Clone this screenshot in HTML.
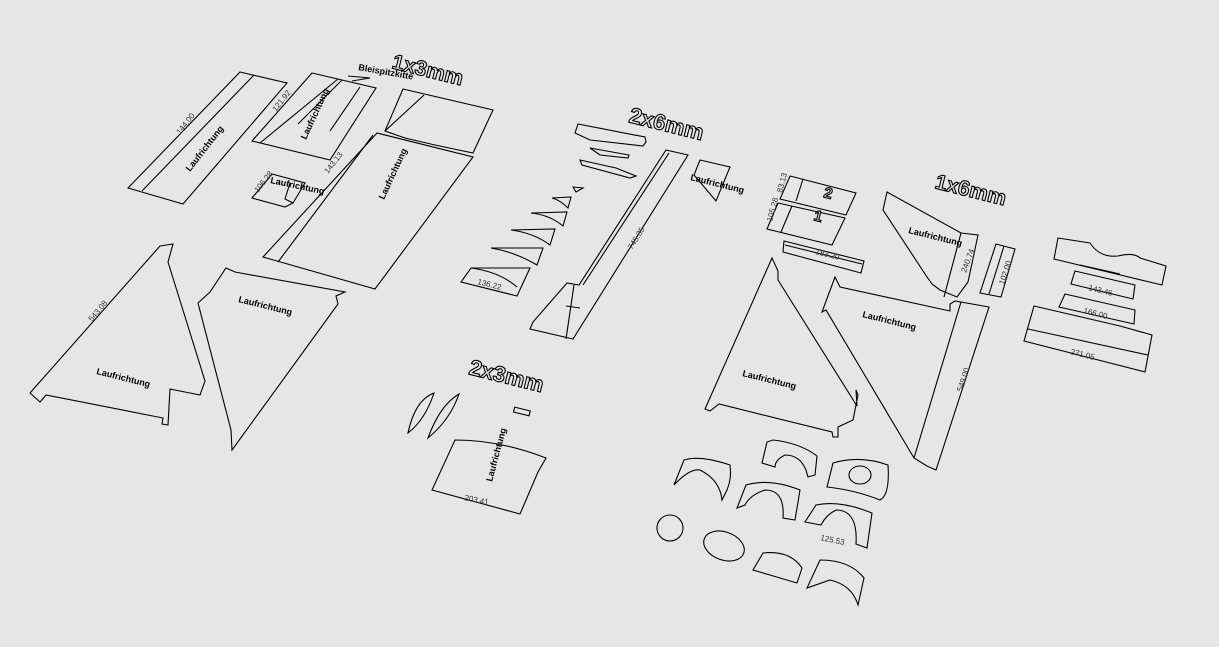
<!DOCTYPE html>
<html><head><meta charset="utf-8"><style>
html,body{margin:0;padding:0;background:#e6e6e6;}
svg{display:block}
.p{fill:none;stroke:#000;stroke-width:1.1}
.t{font-family:"Liberation Sans",sans-serif;font-weight:bold;fill:#e6e6e6;stroke:#000;stroke-width:1.1}
.s{font-family:"Liberation Sans",sans-serif;font-weight:bold;font-size:9px;fill:#000}
.d{font-family:"Liberation Sans",sans-serif;font-size:8px;fill:#333}
</style></head><body>
<svg width="1219" height="647" viewBox="0 0 1219 647">
<rect width="1219" height="647" fill="#e6e6e6"/>
<!-- 1x3mm group -->
<text class="t" font-size="21" transform="translate(391,68) rotate(14)">1x3mm</text>
<text class="s" font-size="7" transform="translate(358,70) rotate(10)">Bleispitzkitte</text>
<polyline class="p" points="348,76 370,78 352,81"/>
<polygon class="p" points="240,72 287,83 183,204 128,188"/>
<line class="p" x1="254" y1="75" x2="142" y2="191"/>
<text class="s" transform="translate(190,172) rotate(-52)">Laufrichtung</text>
<text class="d" transform="translate(180,135) rotate(-52)">144.00</text>
<polygon class="p" points="312,73 376,88 330,160 252,141"/>
<line class="p" x1="260" y1="143" x2="338" y2="79"/>
<line class="p" x1="298" y1="124" x2="342" y2="80"/>
<line class="p" x1="330" y1="131" x2="360" y2="87"/>
<text class="s" transform="translate(306,140) rotate(-65)">Laufrichtung</text>
<text class="d" transform="translate(276,112) rotate(-52)">121.92</text>
<polygon class="p" points="272,174 305,183 293,203 285,207 252,198"/>
<polyline class="p" points="290,183 285,199 293,203"/>
<text class="s" font-size="7" transform="translate(270,183) rotate(12)">Laufrichtung</text>
<text class="d" font-size="6" transform="translate(258,193) rotate(-52)">106.28</text>
<polygon class="p" points="403,89 493,110 473,153 435,145 405,138 385,131"/>
<line class="p" x1="385" y1="131" x2="424" y2="95"/>
<polygon class="p" points="377,133 473,157 375,289 263,257"/>
<line class="p" x1="278" y1="262" x2="373" y2="135"/>
<text class="s" transform="translate(384,200) rotate(-65)">Laufrichtung</text>
<text class="d" transform="translate(328,174) rotate(-52)">143.13</text>
<!-- bottom-left triangles -->
<polygon class="p" points="30,393 160,246 173,244 168,262 205,381 200,395 170,389 168,425 162,424 163,418 46,395 40,402"/>
<text class="s" transform="translate(96,374) rotate(14)">Laufrichtung</text>
<text class="d" transform="translate(92,322) rotate(-50)">543.08</text>
<polygon class="p" points="226,268 235,272 345,292 336,296 338,304 232,450 231,430 198,303 210,292"/>
<text class="s" transform="translate(238,302) rotate(14)">Laufrichtung</text>
<!-- 2x6mm -->
<text class="t" font-size="22" transform="translate(628,122) rotate(14)">2x6mm</text>
<polygon class="p" points="578,124 645,137 646,142 643,146 590,140 575,133"/>
<polygon class="p" points="590,148 629,155 628,158 600,155"/>
<polygon class="p" points="580,160 616,168 636,176 630,178 582,165"/>
<polygon class="p" points="573,187 583,188 576,192"/>
<path class="p" d="M552,198 L571,197 L568,208 Q560,200 552,198 Z"/>
<path class="p" d="M531,213 L567,212 L563,226 Q550,215 531,213 Z"/>
<path class="p" d="M511,230 L555,229 L550,245 Q534,233 511,230 Z"/>
<path class="p" d="M491,248 L543,248 L537,265 Q515,252 491,248 Z"/>
<path class="p" d="M471,268 L530,268 L517,296 L461,282 Z M471,268 Q500,272 517,287"/>
<text class="d" transform="translate(477,284) rotate(14)">136.22</text>
<polygon class="p" points="666,150 688,155 573,339 530,329 533,322 567,283 579,285 666,150"/>
<line class="p" x1="669" y1="153" x2="583" y2="285"/>
<line class="p" x1="574" y1="285" x2="566" y2="339"/>
<line class="p" x1="566" y1="306" x2="580" y2="308"/>
<text class="d" transform="translate(632,250) rotate(-58)">745.35</text>
<polygon class="p" points="700,160 730,167 716,201 694,175"/>
<text class="s" font-size="7" transform="translate(690,180) rotate(14)">Laufrichtung</text>
<!-- 2x3mm -->
<text class="t" font-size="22" transform="translate(468,374) rotate(14)">2x3mm</text>
<path class="p" d="M408,433 Q415,400 434,393 Q425,420 408,433 Z"/>
<path class="p" d="M428,438 Q440,405 459,394 Q450,420 428,438 Z"/>
<rect class="p" x="514" y="409" width="16" height="5" transform="rotate(14 522 411)"/>
<path class="p" d="M455,440 Q500,440 546,458 L538,472 L520,514 L432,490 Z"/>
<text class="s" transform="translate(492,482) rotate(-75)">Laufrichtung</text>
<text class="d" transform="translate(464,500) rotate(12)">203.41</text>
<!-- right: 1x6mm area -->
<text class="t" font-size="21" transform="translate(934,188) rotate(14)">1x6mm</text>
<polygon class="p" points="790,176 856,193 846,215 780,199"/>
<line class="p" x1="803" y1="179" x2="796" y2="201"/>
<text class="t" font-size="15" transform="translate(823,197) rotate(14)">2</text>
<polygon class="p" points="778,203 845,218 832,245 767,229"/>
<line class="p" x1="792" y1="206" x2="781" y2="232"/>
<text class="t" font-size="15" transform="translate(813,220) rotate(14)">1</text>
<text class="d" font-size="6" transform="translate(782,193) rotate(-75)">83.13</text>
<text class="d" font-size="6" transform="translate(772,222) rotate(-75)">105.28</text>
<polygon class="p" points="784,241 864,261 861,273 783,252"/>
<line class="p" x1="785" y1="245" x2="862" y2="264"/>
<text class="d" transform="translate(815,254) rotate(14)">183.20</text>
<polygon class="p" points="887,192 961,233 978,235 968,282 957,297 940,290 932,284 927,277 883,210"/>
<line class="p" x1="961" y1="233" x2="944" y2="297"/>
<text class="s" font-size="7" transform="translate(908,233) rotate(14)">Laufrichtung</text>
<text class="d" transform="translate(966,273) rotate(-70)">240.74</text>
<polygon class="p" points="996,244 1015,249 1001,297 980,293"/>
<line class="p" x1="1004" y1="246" x2="989" y2="294"/>
<text class="d" transform="translate(1004,285) rotate(-72)">102.00</text>
<!-- big triangles right -->
<polygon class="p" points="772,258 778,271 778,280 857,406 856,390 858,395 853,420 838,427 838,437 833,437 832,432 719,404 710,411 705,409"/>
<text class="s" transform="translate(742,376) rotate(14)">Laufrichtung</text>
<polygon class="p" points="835,277 840,287 950,311 950,304 955,301 989,307 936,470 927,466 914,458 826,310 822,312"/>
<line class="p" x1="961" y1="302" x2="914" y2="458"/>
<text class="s" transform="translate(862,317) rotate(14)">Laufrichtung</text>
<text class="d" transform="translate(962,392) rotate(-72)">549.00</text>
<!-- far right stack -->
<path class="p" d="M1058,238 L1090,243 Q1100,258 1118,256 Q1134,252 1140,258 L1166,266 L1162,285 L1054,259 Z"/>
<line class="p" x1="1080" y1="265" x2="1120" y2="274"/>
<polygon class="p" points="1075,271 1135,285 1133,299 1071,284"/>
<text class="d" transform="translate(1088,290) rotate(14)">143.46</text>
<polygon class="p" points="1065,294 1135,310 1134,324 1059,307"/>
<text class="d" transform="translate(1083,313) rotate(14)">166.00</text>
<polygon class="p" points="1034,306 1120,326 1152,335 1145,372 1024,341"/>
<line class="p" x1="1028" y1="329" x2="1148" y2="355"/>
<text class="d" transform="translate(1070,354) rotate(14)">271.05</text>
<!-- bottom-right curvy pieces -->
<path class="p" d="M684,460 Q700,455 730,465 Q732,478 727,490 L722,500 Q720,480 700,470 Q690,468 674,485 Z"/>
<path class="p" d="M767,442 L773,440 Q800,443 817,456 L815,475 L808,477 L806,470 Q800,455 785,455 Q775,460 775,467 L762,463 Z"/>
<path class="p" d="M833,463 Q860,455 888,465 Q890,495 880,500 Q855,490 827,487 Z"/>
<ellipse class="p" cx="860" cy="475" rx="11" ry="9"/>
<path class="p" d="M746,485 Q770,478 800,490 L795,520 L783,518 Q785,490 765,490 Q750,495 745,505 L737,508 Z"/>
<path class="p" d="M816,505 Q840,500 872,513 L867,548 L856,544 Q858,510 836,510 Q826,515 821,525 L805,522 Z"/>
<text class="d" transform="translate(820,540) rotate(12)">125.53</text>
<circle class="p" cx="670" cy="528" r="13"/>
<ellipse class="p" cx="724" cy="546" rx="21" ry="14" transform="rotate(20 724 546)"/>
<path class="p" d="M763,553 Q790,550 802,568 L797,583 L753,570 Z"/>
<path class="p" d="M820,560 Q850,560 864,578 L858,605 Q852,585 830,580 L807,588 Z"/>
</svg>
</body></html>
